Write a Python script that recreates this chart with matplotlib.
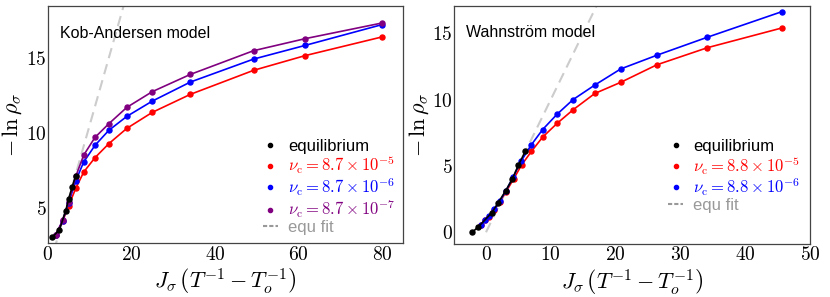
import matplotlib
matplotlib.use('Agg')
import matplotlib.pyplot as plt
from matplotlib.lines import Line2D
import numpy as np

plt.rcParams['font.family'] = ['Liberation Sans', 'DejaVu Sans']
plt.rcParams['mathtext.fontset'] = 'cm'

# ---------------- Kob-Andersen (left) ----------------
ka_eq_x = [1.1, 2.8, 4.3, 5.0, 5.8, 6.7]
ka_eq_y = [3.04, 3.56, 4.82, 5.60, 6.38, 7.16]

ka_x = [1.9, 3.6, 5.0, 6.7, 8.6, 11.3, 14.6, 18.9, 25.0, 34.1, 49.2, 61.5, 79.8]
ka_red_y = [3.2, 4.15, 5.16, 6.31, 7.40, 8.36, 9.29, 10.31, 11.38, 12.58, 14.18, 15.16, 16.40]
ka_blue_y = [3.2, 4.17, 5.35, 6.82, 8.07, 9.18, 10.18, 11.11, 12.13, 13.40, 14.93, 15.84, 17.22]
ka_purple_y = [3.2, 4.18, 5.42, 7.11, 8.53, 9.71, 10.62, 11.71, 12.76, 13.91, 15.49, 16.29, 17.33]
ka_fit_x = [1.5, 19.0]
ka_fit_y = [2.17, 19.32]

ka_labels = ['equilibrium',
             r'$\nu_{\rm c} = 8.7\times10^{-5}$',
             r'$\nu_{\rm c} = 8.7\times10^{-6}$',
             r'$\nu_{\rm c} = 8.7\times10^{-7}$',
             'equ fit']
ka_xticks = [0, 20, 40, 60, 80]
ka_yticks = [5, 10, 15]

# ---------------- Wahnstrom (right) ----------------
wa_eq_x = [-2.12, -1.19, 0.9, 1.9, 3.05, 4.03, 5.0, 6.05]
wa_eq_y = [0.0, 0.41, 1.47, 2.24, 3.14, 3.98, 5.05, 6.09]

wa_red_x = [-0.78, -0.16, 0.47, 1.29, 2.12, 3.1, 4.29, 5.48, 7.0, 8.74, 10.96, 13.44, 16.8, 20.84, 26.37, 34.18, 45.7]
wa_red_y = [0.54, 0.9, 1.18, 1.67, 2.31, 3.06, 4.04, 5.06, 6.09, 7.17, 8.20, 9.23, 10.46, 11.31, 12.62, 13.91, 15.40]
wa_blue_x = [-0.78, -0.16, 0.47, 1.29, 2.12, 3.1, 4.19, 5.43, 6.98, 8.74, 10.96, 13.44, 16.75, 20.8, 26.37, 34.18, 45.7]
wa_blue_y = [0.54, 0.9, 1.21, 1.72, 2.34, 3.14, 4.16, 5.37, 6.58, 7.74, 8.89, 10.0, 11.08, 12.31, 13.34, 14.70, 16.63]
wa_fit_x = [0.0, 18.0]
wa_fit_y = [0.0, 18.0]

wa_labels = ['equilibrium',
             r'$\nu_{\rm c} = 8.8\times10^{-5}$',
             r'$\nu_{\rm c} = 8.8\times10^{-6}$',
             'equ fit']
wa_xticks = [0, 10, 20, 30, 40, 50]
wa_yticks = [0, 5, 10, 15]

RED = '#ff0000'
BLUE = '#0000ff'
PURPLE = '#800080'
FITC = '#cccccc'

fig = plt.figure(figsize=(8.3, 2.97), dpi=100)
ax1 = fig.add_axes([0.0575, 0.1808, 0.4284, 0.798])
ax2 = fig.add_axes([0.5473, 0.1796, 0.4286, 0.7993])

ms = 3.6
lw = 1.2

def style(ax, xticks, yticks, xlim, ylim):
    ax.set_xlim(*xlim)
    ax.set_ylim(*ylim)
    ax.set_xticks(xticks)
    ax.set_xticklabels([f'${t}$' for t in xticks])
    ax.set_yticks(yticks)
    ax.set_yticklabels([f'${t}$' for t in yticks])
    ax.tick_params(length=0, labelsize=14)
    ax.tick_params(axis='x', pad=2)
    ax.tick_params(axis='y', pad=1)
    for s in ax.spines.values():
        s.set_color('#444444')
        s.set_linewidth(0.9)
    ax.set_xlabel(r'$J_\sigma\,\left(T^{-1}-T_o^{-1}\right)$', fontsize=16, labelpad=2)
    ax.set_ylabel(r'$-\,\ln\rho_\sigma$', fontsize=16, labelpad=1)

def make_legend(ax, handles, labels, colors, anchor):
    leg = ax.legend(handles, labels, loc='upper left', frameon=False, fontsize=12,
                    handlelength=0.9, handletextpad=0.6, labelspacing=0.0,
                    borderaxespad=0.0, borderpad=0.0, bbox_to_anchor=anchor,
                    labelcolor=colors)
    return leg

# left
ax1.plot(ka_fit_x, ka_fit_y, '--', color=FITC, lw=1.5, dashes=(5, 3), zorder=1)
ax1.plot(ka_x, ka_red_y, '-o', color=RED, ms=ms, lw=lw, zorder=2)
ax1.plot(ka_x, ka_blue_y, '-o', color=BLUE, ms=ms, lw=lw, zorder=3)
ax1.plot(ka_x, ka_purple_y, '-o', color=PURPLE, ms=ms, lw=lw, zorder=4)
ax1.plot(ka_eq_x, ka_eq_y, '-o', color='black', ms=ms, lw=lw, zorder=5)
style(ax1, ka_xticks, ka_yticks, (0, 85), (2.65, 18.45))
ax1.text(0.035, 0.865, 'Kob-Andersen model', transform=ax1.transAxes,
         fontsize=11.5, va='baseline', ha='left')

h1 = [Line2D([], [], ls='none', marker='o', ms=3, color='black'),
      Line2D([], [], ls='none', marker='o', ms=3, color=RED),
      Line2D([], [], ls='none', marker='o', ms=3, color=BLUE),
      Line2D([], [], ls='none', marker='o', ms=3, color=PURPLE),
      Line2D([], [], ls='--', dashes=(2, 1), color='#999999', lw=1.5)]
make_legend(ax1, h1, ka_labels, ['black', RED, BLUE, PURPLE, '#999999'], (0.605, 0.44))

# right
ax2.plot(wa_fit_x, wa_fit_y, '--', color=FITC, lw=1.5, dashes=(5, 3), zorder=1)
ax2.plot(wa_red_x, wa_red_y, '-o', color=RED, ms=ms, lw=lw, zorder=2)
ax2.plot(wa_blue_x, wa_blue_y, '-o', color=BLUE, ms=ms, lw=lw, zorder=3)
ax2.plot(wa_eq_x, wa_eq_y, '-o', color='black', ms=ms, lw=lw, zorder=5)
style(ax2, wa_xticks, wa_yticks, (-4.9, 50.0), (-0.86, 17.03))
ax2.text(0.032, 0.869, 'Wahnström model', transform=ax2.transAxes,
         fontsize=11.5, va='baseline', ha='left')

h2 = [Line2D([], [], ls='none', marker='o', ms=3, color='black'),
      Line2D([], [], ls='none', marker='o', ms=3, color=RED),
      Line2D([], [], ls='none', marker='o', ms=3, color=BLUE),
      Line2D([], [], ls='--', dashes=(2, 1), color='#999999', lw=1.5)]
make_legend(ax2, h2, wa_labels, ['black', RED, BLUE, '#999999'], (0.602, 0.44))

fig.savefig('out.png', dpi=100)
